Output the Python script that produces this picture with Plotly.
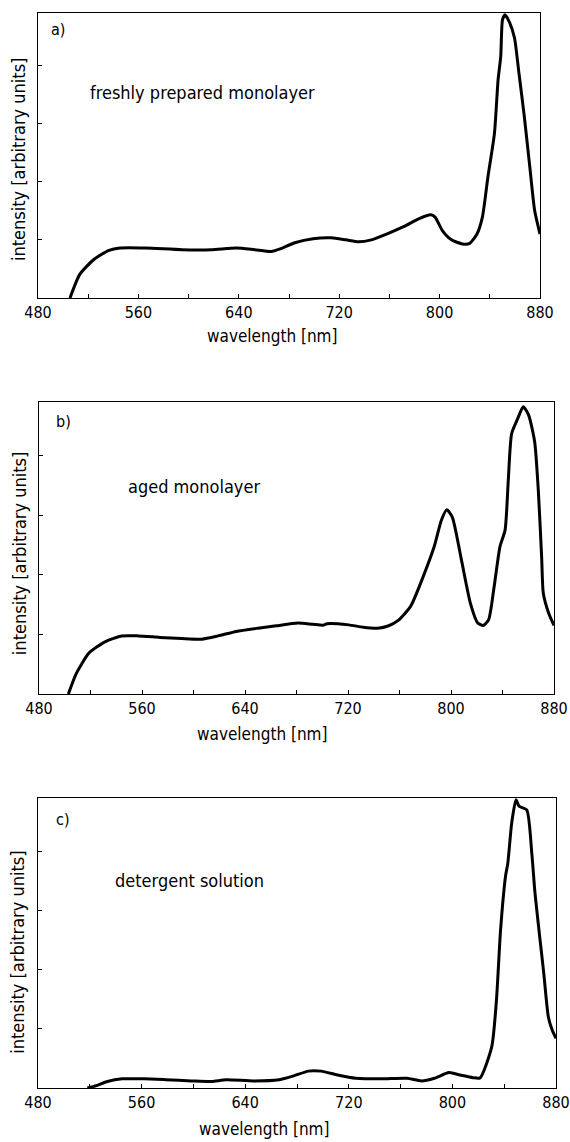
import plotly.graph_objects as go

# ---------------- data ----------------
wl_a = [505.5, 513.4, 525.0, 536.6, 545.3, 565.6, 594.7, 617.9, 638.2, 652.7, 665.8, 673.0,
        684.6, 699.2, 713.7, 725.3, 735.5, 745.6, 760.1, 771.7, 783.3, 792.9, 796.4, 802.2,
        809.5, 818.2, 824.0, 829.8, 834.1, 838.5, 843.7, 846.6, 848.7, 850.1, 852.1, 855.9,
        859.7, 863.2, 867.5, 871.9, 875.7, 880.0]
int_a = [0.0, 0.41, 0.67, 0.82, 0.86, 0.86, 0.83, 0.83, 0.86, 0.83, 0.80, 0.845,
         0.95, 1.02, 1.035, 1.0, 0.965, 1.0, 1.12, 1.23, 1.36, 1.43, 1.39, 1.16,
         1.0, 0.93, 0.94, 1.10, 1.39, 2.08, 2.83, 3.75, 4.15, 4.78, 4.87, 4.73,
         4.47, 3.87, 3.12, 2.25, 1.51, 1.10]

wl_b = [502.8, 509.1, 518.9, 531.6, 544.3, 557.0, 573.9, 590.9, 606.4, 619.1, 633.2, 650.1,
        664.2, 681.1, 692.4, 700.9, 703.7, 720.6, 731.9, 743.2, 751.6, 758.7, 768.6, 778.4,
        786.9, 792.6, 796.8, 801.0, 808.1, 815.1, 820.8, 825.0, 829.2, 833.5, 838.0, 842.0,
        844.5, 847.1, 851.8, 856.1, 860.3, 865.0, 867.8, 870.4, 871.7, 875.8, 880.0]
int_b = [0.0, 0.35, 0.69, 0.88, 0.975, 0.975, 0.95, 0.93, 0.92, 0.975, 1.05, 1.105,
         1.145, 1.19, 1.17, 1.155, 1.18, 1.16, 1.12, 1.105, 1.145, 1.23, 1.47, 1.97,
         2.47, 2.92, 3.09, 2.97, 2.25, 1.52, 1.19, 1.15, 1.245, 1.80, 2.47, 2.75,
         3.59, 4.37, 4.62, 4.82, 4.68, 4.23, 3.42, 2.30, 1.69, 1.36, 1.15]

wl_c = [518.1, 525.1, 533.6, 544.9, 561.8, 578.7, 598.5, 614.0, 625.3, 646.4, 666.2, 677.5,
        688.7, 698.6, 711.3, 725.4, 745.2, 764.9, 776.2, 786.1, 797.4, 805.8, 815.7, 821.3,
        830.4, 834.0, 837.2, 841.1, 842.8, 845.8, 849.1, 851.5, 857.4, 861.3, 863.8, 867.7,
        870.5, 874.1, 877.2, 880.0]
int_c = [0.0, 0.04, 0.11, 0.155, 0.155, 0.14, 0.12, 0.11, 0.14, 0.12, 0.14, 0.205,
         0.285, 0.285, 0.22, 0.165, 0.155, 0.165, 0.12, 0.165, 0.26, 0.22, 0.175, 0.17,
         0.70, 1.48, 2.67, 3.59, 3.80, 4.48, 4.87, 4.76, 4.70, 3.97, 3.29, 2.50,
         1.95, 1.20, 0.97, 0.84]

panel_letters = ["a)", "b)", "c)"]
panel_labels = ["freshly prepared monolayer", "aged monolayer", "detergent solution"]
x_tick_vals = [480, 520, 560, 600, 640, 680, 720, 760, 800, 840, 880]
x_tick_text = ["480", "", "560", "", "640", "", "720", "", "800", "", "880"]
y_tick_vals = [1, 2, 3, 4]
x_title = "wavelength [nm]"
y_title = "intensity [arbitrary units]"

# ---------------- layout geometry ----------------
W, H = 570, 1142
frames = [  # (left, right, top, bottom) in pixels
    (38, 540, 13, 298),
    (39, 554, 402, 694),
    (38, 556, 798, 1088),
]
label_pos = [  # (letter x frac, letter y frac from top, label-left frac, label y frac)
    (0.040, 0.059, 0.100, 0.280),
    (0.048, 0.068, 0.168, 0.288),
    (0.049, 0.074, 0.145, 0.284),
]
xtitle_x = [272, 262, 264]
xtitle_y = [336, 734, 1129]
ytitle_x = [18, 19, 18]
ytitle_c = [0.516, 0.521, 0.534]

FONT = "DejaVu Sans Condensed"
series = [(wl_a, int_a), (wl_b, int_b), (wl_c, int_c)]

fig = go.Figure()
annotations = []
for i, ((wl, inten), (l, r, t, b)) in enumerate(zip(series, frames)):
    n = "" if i == 0 else str(i + 1)
    xa, ya = "x" + n, "y" + n
    fig.add_trace(go.Scatter(x=wl, y=inten, mode="lines", xaxis=xa, yaxis=ya,
                             line=dict(color="black", width=3, shape="spline", smoothing=0.6),
                             showlegend=False, hoverinfo="skip"))
    axis_common = dict(showline=True, linecolor="black", linewidth=1.3, mirror=True,
                       showgrid=False, zeroline=False, ticks="inside", tickcolor="black",
                       tickwidth=1, ticklen=4)
    fig.update_layout(**{
        ("xaxis" + n): dict(domain=[l / W, r / W], range=[480, 880], anchor=ya,
                            tickvals=x_tick_vals, ticktext=x_tick_text,
                            tickfont=dict(family=FONT, size=16, color="black"),
                            automargin=False, **axis_common),
        ("yaxis" + n): dict(domain=[1 - b / H, 1 - t / H], range=[0, 4.9], anchor=xa,
                            tickvals=y_tick_vals, showticklabels=False,
                            automargin=False, **axis_common),
    })
    lx, ly, tx, ty = label_pos[i]
    annotations.append(dict(text=panel_letters[i], xref=xa + " domain", yref=ya + " domain",
                            x=lx, y=1 - ly, xanchor="center", yanchor="middle", showarrow=False,
                            font=dict(family=FONT, size=16, color="black")))
    annotations.append(dict(text=panel_labels[i], xref=xa + " domain", yref=ya + " domain",
                            x=tx, y=1 - ty, xanchor="left", yanchor="middle", showarrow=False,
                            font=dict(family=FONT, size=18, color="black")))
    annotations.append(dict(text=x_title, xref="paper", yref="paper",
                            x=xtitle_x[i] / W, y=1 - xtitle_y[i] / H, xanchor="center",
                            yanchor="middle", showarrow=False,
                            font=dict(family=FONT, size=17, color="black")))
    annotations.append(dict(text=y_title, xref="paper", yref=ya + " domain",
                            x=ytitle_x[i] / W, y=1 - ytitle_c[i], xanchor="center",
                            yanchor="middle", textangle=-90, showarrow=False,
                            font=dict(family=FONT, size=18, color="black")))

fig.update_layout(width=W, height=H, margin=dict(l=0, r=0, t=0, b=0),
                  paper_bgcolor="white", plot_bgcolor="white", annotations=annotations)
fig.write_html("out.html", config={"displayModeBar": False},
               post_script="document.body.style.margin='0';document.body.style.overflow='hidden';")
